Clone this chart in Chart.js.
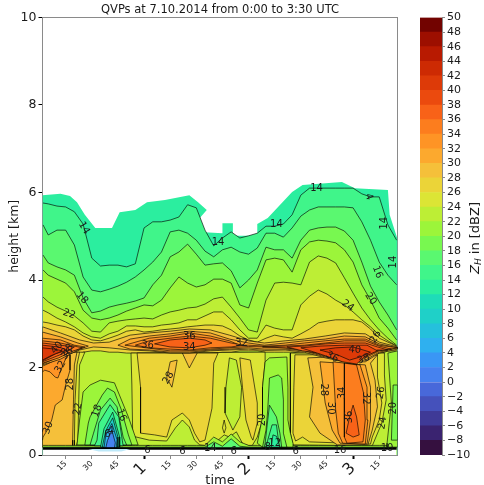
<!DOCTYPE html>
<html>
<head>
<meta charset="utf-8">
<script src="https://cdn.jsdelivr.net/npm/chart.js@4"></script>
<style>
body { margin: 0; background: #fff; }
#qvp { position: absolute; left: 0; top: 0; }
#bar { position: absolute; left: 400px; top: 0; }
</style>
</head>
<body>
<canvas id="qvp" width="400" height="485"></canvas>
<canvas id="bar" width="84" height="485"></canvas>
<script>
//Colour bands, one per 2 dBZ starting at -10
const levels = [-10,-8,-6,-4,-2,0,2,4,6,8,10,12,14,16,18,20,22,24,26,28,30,32,34,36,38,40,42,44,46,48];
const bandColors = ["#35103f","#3a2370","#3f3a97","#4551bb","#4868da","#4682ef","#3a96f5","#2fb0ef","#25c0dc","#1fd0c8",
  "#1edcb8","#2bee9f","#40f58a","#5af870","#78f850","#9cf53a","#bdee35","#dce535","#ebd438","#f5c03a",
  "#fca92e","#fe9425","#fc7d1e","#f86218","#eb4a0e","#dd3a08","#cd2a03","#b81a01","#9d0f00","#720300"];

const tickTimes = [15,30,45,60,75,90,105,120,135,150,165,180,195];
const tickNames = ["15","30","45","1","15","30","45","2","15","30","45","3","15"];

//Contour heights above the melting layer, km at each time in minutes
const gridTimes = [2,5,10,15,20,25,30,35,40,45,50,55,60,65,70,75,80,85,90,95,100,105,110,115,120,125,130,135,140,145,150,155,160,165,170,175,180,185,190,195,200,205];
const zh14 = [5.76,5.74,5.69,5.67,5.56,5.28,4.50,4.32,4.34,4.34,4.30,4.37,5.19,5.33,5.33,5.37,5.44,5.72,5.65,5.14,4.78,4.96,5.10,4.96,5.01,5.07,5.23,5.23,5.28,5.49,5.94,6.10,6.10,6.10,6.10,6.10,6.10,5.97,5.90,5.90,5.26,4.91];
const zh16 = [5.26,5.03,5.14,5.14,4.80,4.07,3.77,3.73,3.79,3.86,3.95,4.07,4.23,4.41,4.64,5.10,5.14,5.07,4.91,4.66,4.53,4.69,4.75,4.64,4.59,4.73,5.07,5.07,4.98,5.19,5.46,5.60,5.67,5.67,5.67,5.67,5.65,5.33,4.91,4.41,4.11,3.89];
const zh18 = [4.57,4.39,4.30,4.23,4.11,3.59,3.25,3.29,3.38,3.43,3.47,3.52,3.59,3.89,4.11,4.53,4.64,4.82,4.59,4.34,4.37,4.39,4.21,3.82,4.00,4.23,4.75,4.69,4.69,4.50,4.91,5.14,5.19,5.21,5.21,5.12,4.91,4.41,3.86,3.50,3.20,2.86];
const zh20 = [4.23,4.11,4.02,3.93,3.73,3.31,3.13,3.09,3.13,3.20,3.29,3.36,3.43,3.41,3.54,3.82,4.07,3.93,3.84,3.89,4.02,4.02,3.93,3.43,3.36,3.93,4.46,4.50,4.46,4.18,4.69,4.87,4.91,4.89,4.85,4.69,4.41,3.89,3.54,3.13,2.90,2.63];
const zh22 = [3.61,3.50,3.38,3.29,3.18,3.02,2.83,2.81,3.02,3.06,3.09,3.11,3.13,3.11,3.20,3.27,3.31,3.36,3.38,3.45,3.57,3.61,3.38,3.13,2.86,2.81,3.54,3.93,3.95,3.93,3.89,4.41,4.55,4.50,4.39,4.05,3.70,3.36,3.09,2.86,2.67,2.51];
const zh24 = [3.31,3.25,3.13,3.04,2.93,2.79,2.70,2.67,2.77,2.83,2.95,2.95,2.93,2.93,2.97,2.99,3.02,3.09,3.09,3.18,3.27,3.27,3.09,2.86,2.67,2.67,2.97,2.90,2.86,2.86,3.43,3.63,3.77,3.68,3.54,3.43,3.27,3.09,2.93,2.74,2.61,2.49];
const zh26 = [3.04,3.02,2.97,2.93,2.86,2.72,2.63,2.61,2.67,2.74,2.83,2.86,2.81,2.83,2.86,2.88,2.90,2.93,2.95,2.97,2.97,2.95,2.86,2.72,2.63,2.58,2.67,2.74,2.70,2.67,2.77,2.88,3.02,3.06,3.09,3.09,3.09,3.04,2.88,2.67,2.58,2.49];
const rainTop = [2.03,2.06,2.08,2.13,2.24,2.35,2.38,2.38,2.35,2.35,2.33,2.33,2.33,2.33,2.33,2.33,2.31,2.29,2.31,2.31,2.33,2.35,2.35,2.38,2.38,2.38,2.35,2.35,2.35,2.35,2.33,2.31,2.29,2.24,2.17,2.13,2.10,2.13,2.22,2.31,2.38,2.38];
const ground22 = [.22,.22,.22,.22,.22,.22,.22,.22,.22,.22,.22,.22,.22,.22,.22,.22,.22,.22,.22,.22,.41,.30,.48,.30,.22,.22,.22,.22,.22,.22,.22,.22,.22,.22,.22,.22,.22,.22,.22,.22,.22,.22];
const ground18 = [.18,.18,.18,.18,.18,.18,.18,.18,.18,.18,.18,.18,.18,.18,.18,.18,.18,.18,.18,.18,.30,.20,.37,.20,.18,.18,.18,.18,.18,.18,.18,.18,.18,.18,.18,.18,.18,.18,.18,.18,.18,.18];
const groundEdge = [.15,.15,.15,.15,.15,.15,.15,.15,.15,.15,.15,.15,.15,.15,.15,.15,.15,.15,.15,.15,.15,.15,.15,.15,.15,.15,.15,.15,.15,.15,.15,.15,.15,.15,.15,.15,.15,.15,.15,.15,.15,.15];

//Closed contours, [minutes, km]
const echoTop = [[1.7,5.94],[12,5.97],[17.5,5.92],[21.5,5.78],[26,5.49],[32,5.19],[41.6,5.19],[46,5.55],[55,5.60],[61.7,5.78],[72,5.83],[86,5.94],[91,5.78],[96,5.60],[92,5.42],[92,5.10],[105,5.07],[105,5.30],[111,5.30],[111,5.01],[125,5.01],[125,5.28],[131,5.42],[145,6.01],[151,6.17],[173.6,6.24],[181,6.10],[200,6.06],[201,5.49],[205.5,4.94],[205.5,0],[1.7,0]];

const left24 = [[26,2.35],[23,2.06],[22.5,1.26],[22,.34],[21,.18],[1.7,.18],[1.7,2.35]];
const left26 = [[23,2.35],[21.5,2.06],[20.4,1.26],[20,.34],[20,.18],[1.7,.18],[1.7,2.35]];
const left28 = [[21.5,2.35],[20,2.06],[19.5,1.26],[19,.34],[19,.18],[1.7,.18],[1.7,2.35]];
const left30 = [[1.7,2.13],[17.5,2.29],[17.5,1.94],[15,1.60],[13,1.26],[9,1.14],[7,.80],[4.5,.57],[2,.41],[1.7,.34]];
const left32 = [[1.7,2.13],[16,2.29],[13.5,2.06],[10.5,1.76],[9,1.78],[6,1.90],[3,1.94],[1.7,1.90]];

const mid24 = [[52.5,2.33],[53,1.60],[53.5,.43],[63,.34],[73,.32],[78,.62],[82,.80],[86,.64],[89,.34],[92,.23],[97,.21],[102.5,.34],[106,.46],[109,.41],[113,.53],[117,.23],[122,.21],[125,.41],[128,.80],[128,1.55],[129.5,2.13],[129.5,2.35]];
const mid26 = [[56,2.33],[58,1.55],[58,.50],[66,.46],[73,.41],[76,.80],[82,.96],[86,.80],[89,.50],[92,.30],[95,.34],[99,1.07],[100,2.10],[102.5,2.33]];
const column22 = [[109,2.22],[107,1.55],[106.5,.96],[111,.57],[115,.87],[116,1.55],[113,2.17]];
const column26 = [[115,2.22],[116.5,1.55],[118.5,.80],[121.5,.41],[122.5,.34],[125,.73],[125,1.19],[121,2.17]];
const oval28 = [[75,2.13],[73,1.76],[76,1.55],[78,1.94],[79,2.17]];
const bump28 = [[82,2.33],[86,1.99],[90.5,2.33]];
const diamond24 = [[106,.50],[105,.62],[106,.80],[107,.62]];

const shaft24 = [[144,2.33],[144,1.49],[144,.50],[145.5,.23],[191,.21],[196.5,.73],[199,1.26],[198,1.83],[198,2.33]];
const shaft26 = [[146.6,2.29],[146,1.55],[145.5,.50],[147,.32],[151,.41],[155,.30],[190,.25],[191,.41],[195,.80],[196.5,1.19],[194,1.78],[194,2.29]];
const shaft28 = [[154,2.22],[157,1.55],[155,.87],[161,.50],[171,.23],[188.5,.23],[191,.57],[194,1.10],[192.6,1.71],[190,2.10],[194,2.29]];
const shaft30 = [[161,2.13],[164,1.19],[168,.57],[172.5,.27],[188,.25],[190,.80],[190,1.55],[187,2.06]];
const shaft32 = [[168.5,2.13],[170,1.03],[171.5,.50],[174,.27],[187,.25],[188.5,.80],[188,1.55],[184,2.06]];
const shaft34 = [[175,2.10],[175,1.03],[175,.41],[176.5,.27],[185.7,.30],[187,.80],[186,1.42],[182,2.06]];
const shaft36 = [[180,1.14],[178,.87],[176,.50],[180,.41],[183.5,.46],[182,.87]];

const lowA = [[25,1.44],[29,1.60],[35,1.71],[43,1.65],[51,.87],[56.6,.23],[21.5,.23],[23,.80]];
const lowB = [[36,1.37],[39,1.53],[43,1.44],[47,1.03],[51,.46],[53,.23],[26,.23],[28,.73],[29,.87]];
const lowC = [[35,1.03],[40.5,1.30],[44.5,1.10],[48,.41],[50,.23],[29,.23],[31,.50]];
const lowD = [[34,.73],[40.5,1.15],[45.5,.87],[47.5,.34],[48,.21],[31.5,.21],[33,.34]];
const lowE = [[37,.60],[42,.98],[46,.41],[46,.18],[35,.18]];
const lowF = [[38,.55],[42,.85],[45,.41],[45,.18],[36,.18]];
const lowG = [[38,.45],[41.5,.72],[44.5,.35],[44,.16],[37,.16]];
const lowH = [[39,.33],[41.5,.57],[43.5,.28],[43,.16],[38,.16]];

const gap20 = [[129.5,2.13],[128,1.55],[128,.87],[125,.27],[128,.18],[145,.18],[145.5,.27],[144,.50],[142.6,.80],[142.6,1.55],[142,2.24],[132,2.22]];
const gap18 = [[132,1.76],[131,1.03],[130,.57],[128,.18],[142,.18],[140,.50],[140,1.26],[139,1.76],[137,1.83]];
const gap16 = [[132,1.14],[129.5,.27],[129,.18],[139,.18],[138,.50],[136,.87]];
const gap14 = [[131,.34],[133.5,.69],[136,.69],[137.5,.23],[137.5,.18],[130,.18]];
const gap12 = [[133,.18],[134,.46],[136,.43],[138,.18]];
const far20 = [[200,2.33],[202,1.19],[199.5,.27],[199.5,.18],[205.5,.18],[205.5,2.38]];
const far18 = [[203,1.60],[202,.34],[205.5,.34],[205.5,1.60]];

//Bright band lenses
const band28 = [[1.7,2.93],[12,2.79],[23,2.63],[31,2.56],[40,2.58],[52,2.74],[63,2.79],[75,2.83],[86,2.88],[98,2.86],[109,2.74],[120,2.61],[129,2.56],[141,2.61],[152,2.65],[164,2.72],[175,2.79],[187,2.77],[195,2.58],[205.5,2.47],[205.5,2.42],[195,2.33],[187,2.13],[175,2.13],[164,2.22],[152,2.35],[141,2.40],[129,2.39],[120,2.42],[109,2.40],[98,2.38],[86,2.33],[75,2.33],[63,2.38],[52,2.40],[40,2.45],[31,2.47],[23,2.40],[12,2.22],[1.7,2.03]];
const band30a = [[1.7,2.81],[12,2.70],[22,2.56],[28,2.49],[22,2.40],[12,2.19],[1.7,2.06]];
const band30b = [[45,2.51],[52,2.65],[63,2.72],[75,2.77],[86,2.83],[98,2.79],[109,2.65],[120,2.56],[129,2.51],[141,2.56],[152,2.61],[164,2.65],[175,2.72],[187,2.70],[195,2.54],[205.5,2.45],[195,2.35],[187,2.17],[175,2.15],[164,2.24],[152,2.38],[141,2.42],[129,2.42],[120,2.45],[109,2.42],[98,2.40],[86,2.35],[75,2.35],[63,2.40],[52,2.42]];
const band32a = [[1.7,2.67],[12,2.63],[20,2.51],[26,2.47],[20,2.40],[12,2.26],[1.7,2.08]];
const band32b = [[49,2.51],[63,2.67],[75,2.72],[86,2.79],[98,2.72],[109,2.61],[115,2.51],[120,2.51],[129,2.49],[141,2.51],[152,2.56],[164,2.61],[175,2.65],[187,2.65],[195,2.51],[205.5,2.45],[195,2.38],[187,2.22],[175,2.17],[164,2.26],[152,2.40],[141,2.45],[129,2.47],[120,2.48],[109,2.45],[98,2.42],[86,2.38],[75,2.38],[63,2.44]];
const band34a = [[1.7,2.61],[12,2.56],[20,2.49],[24.5,2.45],[17.5,2.35],[11,2.22],[1.7,2.10]];
const band34b = [[55,2.51],[63,2.61],[75,2.67],[86,2.72],[98,2.67],[110,2.56],[117,2.51],[110,2.47],[98,2.45],[86,2.40],[75,2.42],[63,2.45]];
const band34c = [[128,2.47],[141,2.49],[152,2.51],[164,2.56],[175,2.61],[187,2.61],[195,2.49],[202,2.42],[195,2.40],[187,2.26],[175,2.22],[164,2.31],[152,2.40],[141,2.45]];
const band36a = [[1.7,2.56],[12,2.51],[20,2.47],[13,2.31],[1.7,2.13]];
const band36b = [[66,2.54],[75,2.63],[86,2.67],[95,2.63],[99,2.56],[95,2.51],[86,2.45],[75,2.47]];
const band36c = [[142,2.47],[152,2.49],[164,2.54],[175,2.56],[187,2.56],[194,2.47],[200,2.40],[194,2.40],[187,2.31],[178,2.13],[170,2.22],[161,2.33],[151,2.38]];
const band38a = [[1.7,2.51],[11,2.47],[16,2.40],[9,2.31],[1.7,2.15]];
const band38b = [[150,2.45],[161,2.49],[175,2.51],[188,2.51],[194,2.38],[187,2.26],[182,2.08],[174,2.13],[161,2.31]];
const band40a = [[1.7,2.45],[9,2.42],[13,2.38],[6,2.26],[1.7,2.17]];
const band40b = [[161,2.40],[170,2.45],[180,2.47],[190,2.35],[184,2.24],[178,2.17],[171,2.29]];

//Thin sliver under the ground clutter
const groundTint = [[28,.14],[34,.08],[47,.08],[52,.14]];

//Contour labels as text, minutes, km, angle
const contourLabels = [
  ["14",25.5,5.19,-60],["18",24.4,3.59,-50],["22",17,3.22,-20],["14",102.5,4.85,0],["14",136,5.26,0],["14",159,6.10,0],
  ["14",198,5.30,90],["4",189,5.90,-70],["16",194,4.18,-70],["20",190,3.57,-55],["24",177,3.41,-35],["14",203,4.41,90],
  ["40",10,2.45,50],["38",16,2.40,45],["36",16,2.31,45],["32",12,2.01,60],["28",17.5,1.62,90],["22",22,1.05,80],["30",5,.62,70],
  ["18",33,1.01,70],["16",47,.91,-70],["6",39,.46,0],["4",41,.53,0],["36",62,2.51,-5],["6",62,.11,0],
  ["36",86,2.70,0],["34",86,2.45,0],["32",116,2.56,0],["28",74,1.76,60],["20",128,.80,90],["6",82,.09,0],["14",98,.14,0],
  ["6",111.5,.09,0],["8",131,.18,0],["12",135,.27,0],
  ["40",181,2.40,-5],["36",168,2.24,-30],["38",186,2.19,20],["28",163,1.49,-90],["30",167,1.07,-90],["34",174,1.42,90],
  ["36",178,.87,90],["32",187,1.30,-90],["26",196,1.42,80],["24",197,.73,80],["20",203,1.07,90],["26",193,2.70,60],
  ["16",172.5,.11,0],["6",147,.09,0],["10",199.5,.14,0]
];

const font = "'DejaVu Sans', sans-serif";
const lineColor = "rgba(0,0,0,.8)";
const frameColor = "#8a8a8a";

function colorFor(level) {
  return bandColors[levels.indexOf(level)];
}

function curveLayer(values, level, width) {
  return {
    data: values.map((v, i) => ({x: gridTimes[i], y: v})),
    fill: "origin",
    backgroundColor: colorFor(level),
    borderColor: lineColor,
    borderWidth: width === undefined ? .8 : width
  };
}

function shapeLayer(points, level, width) {
  let closed = points.concat([points[0]]);
  return {
    data: closed.map(p => ({x: p[0], y: p[1]})),
    fill: "shape",
    backgroundColor: colorFor(level),
    borderColor: lineColor,
    borderWidth: width === undefined ? .8 : width
  };
}

// painted in this order, each one over the previous
let layers = [
  shapeLayer(echoTop, 12, 0),
  curveLayer(zh14, 14), curveLayer(zh16, 16), curveLayer(zh18, 18), curveLayer(zh20, 20),
  curveLayer(zh22, 22), curveLayer(zh24, 24), curveLayer(zh26, 26),
  curveLayer(rainTop, 22),
  shapeLayer(left24, 24), shapeLayer(left26, 26), shapeLayer(left28, 28), shapeLayer(left30, 30), shapeLayer(left32, 32),
  shapeLayer(mid24, 24), shapeLayer(mid26, 26), shapeLayer(column22, 22), shapeLayer(column26, 26),
  shapeLayer(oval28, 28), shapeLayer(bump28, 28), shapeLayer(diamond24, 24),
  shapeLayer(shaft24, 24), shapeLayer(shaft26, 26), shapeLayer(shaft28, 28), shapeLayer(shaft30, 30),
  shapeLayer(shaft32, 32), shapeLayer(shaft34, 34), shapeLayer(shaft36, 36),
  curveLayer(ground22, 20), curveLayer(ground18, 16),
  shapeLayer(lowA, 20), shapeLayer(lowB, 18), shapeLayer(lowC, 16), shapeLayer(lowD, 14),
  shapeLayer(lowE, 12), shapeLayer(lowF, 8), shapeLayer(lowG, 4), shapeLayer(lowH, 0),
  shapeLayer(gap20, 20), shapeLayer(gap18, 18), shapeLayer(gap16, 16), shapeLayer(gap14, 14), shapeLayer(gap12, 12),
  shapeLayer(far20, 20), shapeLayer(far18, 18),
  shapeLayer(band28, 28), shapeLayer(band30a, 30), shapeLayer(band30b, 30),
  shapeLayer(band32a, 32), shapeLayer(band32b, 32),
  shapeLayer(band34a, 34), shapeLayer(band34b, 34), shapeLayer(band34c, 34),
  shapeLayer(band36a, 36), shapeLayer(band36b, 36), shapeLayer(band36c, 36),
  shapeLayer(band38a, 38), shapeLayer(band38b, 38),
  shapeLayer(band40a, 40), shapeLayer(band40b, 40)
];

let groundLayer = curveLayer(groundEdge, 0, 2.5);
groundLayer.backgroundColor = "#fff";
groundLayer.borderColor = "#000";
layers.push(groundLayer);
let tintLayer = shapeLayer(groundTint, 4, 0);
tintLayer.backgroundColor = "#bde8f8";
layers.push(tintLayer);

layers.forEach((layer, i) => {
  layer.order = layers.length - i;
  layer.showLine = true;
  layer.pointRadius = 0;
  layer.tension = 0;
});

const labelPlugin = {
  id: "contourLabels",
  afterDatasetsDraw(chart) {
    let ctx = chart.ctx;
    ctx.save();
    ctx.font = "10px " + font;
    ctx.fillStyle = "#1a1a1a";
    ctx.textAlign = "center";
    ctx.textBaseline = "middle";
    contourLabels.forEach(l => {
      ctx.save();
      ctx.translate(chart.scales.x.getPixelForValue(l[1]), chart.scales.y.getPixelForValue(l[2]));
      ctx.rotate(-l[3] * Math.PI / 180);
      ctx.fillText(l[0], 0, 0);
      ctx.restore();
    });
    ctx.restore();
  }
};

new Chart(document.getElementById("qvp"), {
  type: "scatter",
  data: {datasets: layers},
  plugins: [labelPlugin],
  options: {
    responsive: false,
    animation: false,
    events: [],
    layout: {padding: {right: 2.5}},
    plugins: {
      legend: {display: false},
      tooltip: {enabled: false},
      title: {
        display: true,
        fullSize: false,
        text: "QVPs at 7.10.2014 from 0:00 to 3:30 UTC",
        color: "#1a1a1a",
        font: {family: font, size: 11.5, weight: "normal"},
        padding: {top: 3.2, bottom: .5}
      }
    },
    scales: {
      x: {
        type: "linear",
        min: 1.7,
        max: 205.5,
        afterBuildTicks: axis => { axis.ticks = tickTimes.map(v => ({value: v})); },
        afterFit: axis => { axis.height = 30; },
        border: {color: frameColor},
        grid: {
          drawOnChartArea: false,
          tickLength: 4,
          tickColor: c => c.index % 4 == 3 ? "#000" : frameColor,
          tickWidth: c => c.index % 4 == 3 ? 2 : 1
        },
        title: {display: true, text: "time", color: "#1a1a1a", font: {family: font, size: 13}, padding: {top: 0, bottom: -3}},
        ticks: {
          autoSkip: false,
          maxRotation: 45,
          minRotation: 45,
          padding: 0,
          color: "#1a1a1a",
          callback: (v, i) => tickNames[i],
          font: c => ({family: font, size: c.index % 4 == 3 ? 16 : 8})
        }
      },
      y: {
        min: 0,
        max: 10,
        afterFit: axis => { axis.width = 42.5; },
        border: {color: frameColor},
        grid: {drawOnChartArea: false, tickLength: 4, tickColor: "#000"},
        title: {display: true, text: "height [km]", color: "#1a1a1a", font: {family: font, size: 12.5}, padding: {top: 7, bottom: 0}},
        ticks: {stepSize: 2, color: "#1a1a1a", padding: 2, font: {family: font, size: 12.5}}
      },
      top: {
        position: "top",
        type: "linear",
        border: {color: frameColor},
        grid: {drawOnChartArea: false, drawTicks: false},
        ticks: {display: false},
        afterFit: axis => { axis.height = 0; }
      },
      right: {
        position: "right",
        type: "linear",
        border: {color: frameColor},
        grid: {drawOnChartArea: false, drawTicks: false},
        ticks: {display: false},
        afterFit: axis => { axis.width = 0; }
      }
    }
  }
});

const unitPlugin = {
  id: "unitTitle",
  afterDraw(chart) {
    let ctx = chart.ctx;
    ctx.save();
    ctx.translate(75, 238);
    ctx.rotate(-Math.PI / 2);
    ctx.textBaseline = "alphabetic";
    ctx.fillStyle = "#1a1a1a";
    ctx.textAlign = "left";
    let x = -36;
    ctx.font = "italic 13px " + font;
    ctx.fillText("Z", x, 4);
    x += ctx.measureText("Z").width;
    ctx.font = "italic 9px " + font;
    ctx.fillText("H", x, 6);
    x += ctx.measureText("H").width;
    ctx.font = "13px " + font;
    ctx.fillText(" in [dBZ]", x, 4);
    ctx.restore();
  }
};

new Chart(document.getElementById("bar"), {
  type: "bar",
  data: {
    labels: ["dBZ"],
    datasets: levels.map((lo, i) => ({
      data: [[lo, lo + 2]],
      backgroundColor: bandColors[i],
      grouped: false,
      barPercentage: 1,
      categoryPercentage: 1
    }))
  },
  plugins: [unitPlugin],
  options: {
    responsive: false,
    animation: false,
    events: [],
    layout: {padding: {left: 20, top: 17.5, bottom: 30}},
    plugins: {legend: {display: false}, tooltip: {enabled: false}},
    scales: {
      x: {display: false},
      y: {
        position: "right",
        min: -10,
        max: 50,
        afterFit: axis => { axis.width = 42; },
        border: {color: frameColor},
        grid: {drawOnChartArea: false, tickLength: 3, tickColor: frameColor},
        ticks: {
          stepSize: 2,
          autoSkip: false,
          padding: 2,
          color: "#1a1a1a",
          font: {family: font, size: 11},
          callback: v => String(v).replace("-", "\u2212")
        }
      }
    }
  }
});
</script>
</body>
</html>
